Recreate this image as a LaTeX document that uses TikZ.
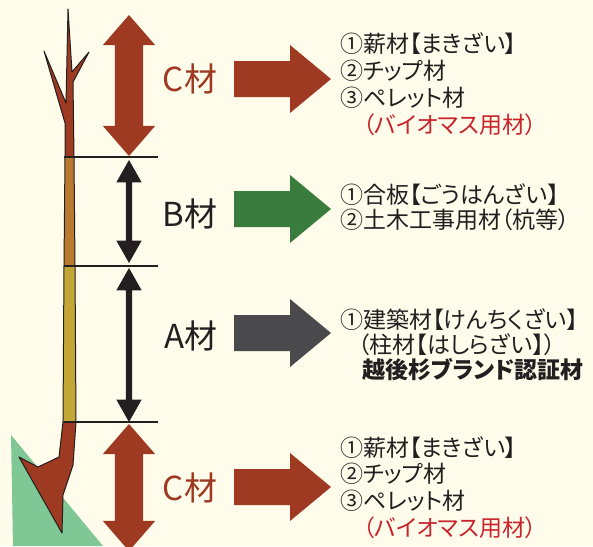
\documentclass[tikz,border=0pt]{standalone}
\usepackage{fontspec}
\setmainfont[RawFeature=+palt]{Noto Sans CJK JP}
\usepackage{xcolor}
\usetikzlibrary{shapes.arrows, positioning}
\definecolor{paper}{RGB}{255,252,235}
\definecolor{ink}{RGB}{35,31,32}
\definecolor{cwood}{RGB}{158,58,33}
\definecolor{bwood}{RGB}{185,122,47}
\definecolor{awood}{RGB}{195,166,53}
\definecolor{slope}{RGB}{127,199,148}
\definecolor{bgreen}{RGB}{58,123,62}
\definecolor{agray}{RGB}{74,74,77}
\definecolor{notered}{RGB}{201,36,43}

\begin{document}
\begin{tikzpicture}[x=1pt, y=-1pt,
  trunk/.style={draw=ink, line width=1pt, line join=round},
  cutline/.style={draw=ink, line width=1.4pt},
  span/.style={double arrow, rotate=90, inner xsep=0pt, inner ysep=14pt,
    double arrow head extend=12, double arrow tip angle=82, fill=cwood},
  gauge/.style={double arrow, rotate=90, inner xsep=0pt, inner ysep=3pt,
    double arrow head extend=9.5, double arrow tip angle=59, fill=ink},
  grade/.style={font=\fontsize{33}{33}\selectfont, inner sep=0pt},
  uses/.style={anchor=north west, align=left, inner sep=0pt,
    font=\fontsize{23}{27}\selectfont, text=ink}
]
\fill[paper] (0,0) rectangle (593,546);
\useasboundingbox (0,0) rectangle (593,546);

\fill[slope] (11,435) -- (13,546) -- (103,546) -- cycle;

% the tree, top to root
\filldraw[trunk, fill=cwood] (68,9) -- (72,72) -- (89,52) -- (73,82)
  -- (74,157) -- (65,157) -- (65,123) -- (44,51) -- (66,103) -- cycle;
\filldraw[trunk, fill=bwood] (65,157) -- (74,157) -- (75,266) -- (64,266) -- cycle;
\filldraw[trunk, fill=awood] (64,266) -- (75,266) -- (76,422) -- (63,422) -- cycle;
\filldraw[trunk, fill=cwood] (63,422) -- (76,422) -- (73,465) -- (63,495)
  -- (62,533) -- (19,457) -- (38,467) -- (59,457) -- cycle;

\foreach \y in {157,266,422}
  \draw[cutline] (64,\y) -- (158,\y);

\node[span, minimum height=141] (ctop) at (129,85.5) {};
\node[gauge, minimum height=103] (bspan) at (129,211.5) {};
\node[gauge, minimum height=154] (aspan) at (129,345) {};
\node[span, minimum height=127] (cbot) at (129,487.5) {};

\node[grade, text=cwood] (ctoplab) at (190,79) {C材};
\node[grade, text=ink] (blab) at (190,214) {B材};
\node[grade, text=ink] (alab) at (191,336) {A材};
\node[grade, text=cwood] (cbotlab) at (190,488) {C材};

% arrows out to the uses
\foreach \yc/\col in {79/cwood, 209/bgreen, 333/agray, 487/cwood}
  \fill[\col] (234,\yc-18) -- (290,\yc-18) -- (290,\yc-34) -- (331,\yc)
    -- (290,\yc+34) -- (290,\yc+18) -- (234,\yc+18) -- cycle;

\node[uses] (ctopuse) at (340,32)
  {①薪材【まきざい】\\②チップ材\\③ペレット材\\
   \hspace*{23pt}{\color{notered}（バイオマス用材）}};
\node[uses, font=\fontsize{23}{25}\selectfont] (buse) at (340,183)
  {①合板【ごうはんざい】\\②土木工事用材（杭等）};
\node[uses, font=\fontsize{23}{25}\selectfont] (ause) at (340,308)
  {①建築材【けんちくざい】\\\hspace*{18pt}（柱材【はしらざい】）\\
   \hspace*{22pt}{\bfseries 越後杉ブランド認証材}};
\node[uses, font=\fontsize{23}{26.7}\selectfont] (cbotuse) at (340,436)
  {①薪材【まきざい】\\②チップ材\\③ペレット材\\
   \hspace*{23pt}{\color{notered}（バイオマス用材）}};
\end{tikzpicture}
\end{document}
